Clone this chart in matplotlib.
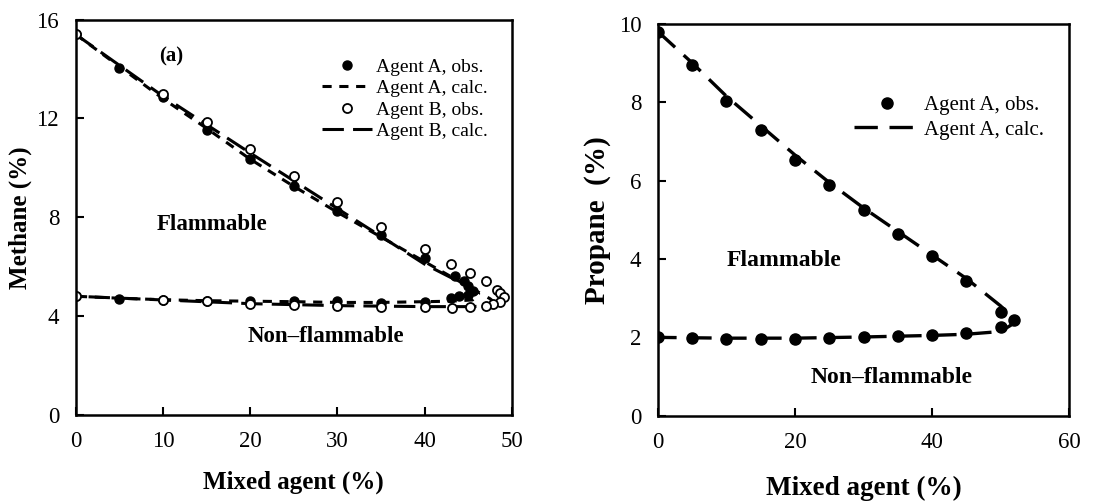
import matplotlib
matplotlib.use("Agg")
import matplotlib.pyplot as plt

plt.rcParams['font.family'] = ['Liberation Serif', 'DejaVu Serif']

# Methane: agent A, observed points
ch4_a_obs_x = [0, 5, 10, 15, 20, 25, 30, 35, 40, 43.5, 44.5, 45, 45.5, 45, 44, 43, 40, 35, 30, 25, 20, 15, 10, 5, 0]
ch4_a_obs_y = [15.4, 14.05, 12.85, 11.55, 10.35, 9.25, 8.25, 7.3, 6.35, 5.6, 5.4, 5.2, 5.0, 4.85, 4.8, 4.72, 4.55, 4.53, 4.6, 4.62, 4.6, 4.62, 4.66, 4.7, 4.8]
# Methane: agent A, calculated boundary
ch4_a_calc_x = [0, 5, 10, 15, 20, 25, 30, 35, 40, 43, 45, 46.2, 45.5, 43, 40, 35, 30, 25, 20, 15, 10, 5, 0]
ch4_a_calc_y = [15.4, 14.1, 12.8, 11.6, 10.35, 9.25, 8.2, 7.2, 6.2, 5.6, 5.2, 4.9, 4.65, 4.6, 4.58, 4.55, 4.55, 4.58, 4.6, 4.62, 4.66, 4.72, 4.8]
# Methane: agent B, observed points
ch4_b_obs_x = [0, 10, 15, 20, 25, 30, 35, 40, 43, 45.2, 47.1, 48.3, 48.6, 49.1, 48.6, 47.9, 47.1, 45.2, 43.1, 40, 35, 30, 25, 20, 15, 10, 0]
ch4_b_obs_y = [15.4, 13.0, 11.85, 10.75, 9.65, 8.6, 7.6, 6.7, 6.1, 5.75, 5.4, 5.07, 4.95, 4.76, 4.55, 4.47, 4.42, 4.36, 4.32, 4.38, 4.36, 4.42, 4.46, 4.5, 4.6, 4.66, 4.8]
# Methane: agent B, calculated boundary
ch4_b_calc_x = [0, 10, 20, 30, 40, 45, 47.5, 48.2, 47, 45, 40, 30, 20, 10, 0]
ch4_b_calc_y = [15.4, 12.9, 10.6, 8.35, 6.1, 5.2, 4.7, 4.5, 4.4, 4.38, 4.38, 4.42, 4.5, 4.65, 4.8]

# Propane: agent A
c3_obs_x = [0, 5, 10, 15, 20, 25, 30, 35, 40, 45, 50, 52, 50, 45, 40, 35, 30, 25, 20, 15, 10, 5, 0]
c3_obs_y = [9.8, 8.95, 8.02, 7.28, 6.53, 5.88, 5.26, 4.63, 4.08, 3.43, 2.64, 2.45, 2.26, 2.11, 2.07, 2.04, 2.0, 1.98, 1.97, 1.96, 1.97, 1.99, 2.02]
c3_calc_x = [0, 5, 10, 15, 20, 25, 30, 35, 40, 45, 50, 52.3, 50, 45, 40, 30, 20, 10, 0]
c3_calc_y = [9.8, 9.0, 8.15, 7.4, 6.65, 5.95, 5.3, 4.7, 4.1, 3.5, 2.8, 2.4, 2.15, 2.08, 2.05, 2.01, 1.98, 1.98, 2.0]

fig = plt.figure(figsize=(11.15, 5.04), dpi=100)
ax1 = fig.add_axes([0.068, 0.177, 0.391, 0.784])
ax2 = fig.add_axes([0.590, 0.175, 0.369, 0.778])


def style_axes(ax):
    for s in ax.spines.values():
        s.set_linewidth(1.8)
    ax.tick_params(direction='in', length=6, width=1.5, labelsize=16.5, pad=12,
                   top=False, right=False)


# left panel: methane
ax1.plot(ch4_a_calc_x, ch4_a_calc_y, color='k', lw=2.2, dashes=(3, 2.5), label='Agent A, calc.')
ax1.plot(ch4_b_calc_x, ch4_b_calc_y, color='k', lw=2.2, dashes=(7, 3), label='Agent B, calc.')
ax1.plot(ch4_a_obs_x, ch4_a_obs_y, 'o', color='k', ms=6.5, label='Agent A, obs.')
ax1.plot(ch4_b_obs_x, ch4_b_obs_y, 'o', mfc='white', mec='k', mew=1.3, ms=6.5, label='Agent B, obs.')
ax1.set_xlim(0, 50)
ax1.set_ylim(0, 16)
ax1.set_xticks([0, 10, 20, 30, 40, 50])
ax1.set_yticks([0, 4, 8, 12, 16])
style_axes(ax1)
ax1.set_xlabel('Mixed agent (%)', fontsize=18, fontweight='bold', va='center')
ax1.set_ylabel('Methane (%)', fontsize=18, fontweight='bold', va='center')
ax1.xaxis.set_label_coords(0.5, -0.17)
ax1.yaxis.set_label_coords(-0.128, 0.5)
ax1.text(9.6, 14.5, '(a)', fontsize=15, fontweight='bold', va='center')
ax1.text(9.3, 7.7, 'Flammable', fontsize=16.5, fontweight='bold', va='center')
ax1.text(19.7, 3.15, 'Non\u2013flammable', fontsize=16.5, fontweight='bold', va='center')
h, l = ax1.get_legend_handles_labels()
order = [2, 0, 3, 1]
ax1.legend([h[i] for i in order], [l[i] for i in order], loc='upper right',
           bbox_to_anchor=(0.985, 0.947), frameon=False, fontsize=14,
           handlelength=2.6, handletextpad=0.2, labelspacing=0.2)

# right panel: propane
ax2.plot(c3_calc_x, c3_calc_y, color='k', lw=2.4, dashes=(7, 3.5), label='Agent A, calc.')
ax2.plot(c3_obs_x, c3_obs_y, 'o', color='k', ms=8, label='Agent A, obs.')
ax2.set_xlim(0, 60)
ax2.set_ylim(0, 10)
ax2.set_xticks([0, 20, 40, 60])
ax2.set_yticks([0, 2, 4, 6, 8, 10])
style_axes(ax2)
ax2.set_xlabel('Mixed agent (%)', fontsize=19.5, fontweight='bold', va='center')
ax2.set_ylabel('Propane  (%)', fontsize=21, fontweight='bold', va='center')
ax2.xaxis.set_label_coords(0.5, -0.184)
ax2.yaxis.set_label_coords(-0.146, 0.5)
ax2.text(10, 3.95, 'Flammable', fontsize=17, fontweight='bold', va='center')
ax2.text(22.3, 0.98, 'Non\u2013flammable', fontsize=17, fontweight='bold', va='center')
h, l = ax2.get_legend_handles_labels()
ax2.legend([h[1], h[0]], [l[1], l[0]], loc='upper right',
           bbox_to_anchor=(0.985, 0.865), frameon=False, fontsize=15,
           handlelength=3.2, handletextpad=0.2, labelspacing=0.25)

fig.savefig('out.png', dpi=100)
